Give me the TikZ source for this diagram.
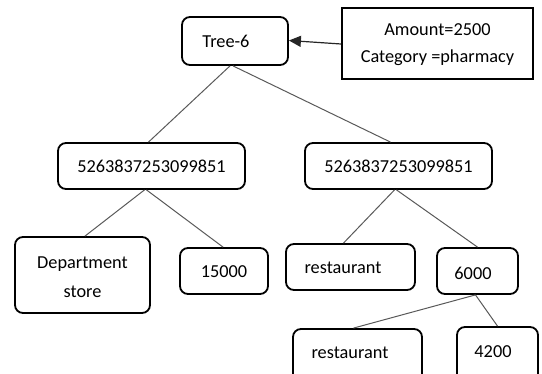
\documentclass[tikz,border=0pt]{standalone}
\usepackage{fontspec}
\setmainfont{Carlito}
\usetikzlibrary{arrows.meta,calc}
\begin{document}
\begin{tikzpicture}[x=1pt,y=-1pt,
  every node/.style={font=\fontsize{18.3}{22}\selectfont},
  rbox/.style={draw=black,line width=1.8pt,rounded corners=8pt,inner sep=0pt},
  sbox/.style={draw=black,line width=1.8pt,inner sep=0pt},
  txt/.style={inner sep=0pt,align=center},
  edge/.style={draw=black!65,line width=1pt}]
\clip (0,0) rectangle (542,374);
\useasboundingbox (0,0) rectangle (542,374);

% info box and root
\node[sbox,minimum width=191,minimum height=71] (info) at (437.5,43.5) {};
\node[txt,font=\fontsize{18.3}{27}\selectfont] (infot) at (437.5,44.5) {Amount=2500\\Category =pharmacy};
\node[rbox,minimum width=106,minimum height=48] (t6) at (235,41) {};
\node[txt] (t6t) at (226,41) {Tree-6};

% second level
\node[rbox,minimum width=187,minimum height=46] (l1) at (151.5,166) {};
\node[txt] (l1t) at (151.5,166) {5263837253099851};
\node[rbox,minimum width=187,minimum height=46] (r1) at (398.5,166) {};
\node[txt] (r1t) at (398.5,166) {5263837253099851};

% third level
\node[rbox,minimum width=135,minimum height=76] (dep) at (82.5,275) {};
\node[txt,font=\fontsize{18.3}{29}\selectfont] (dept) at (82.5,277) {Department\\store};
\node[rbox,minimum width=88,minimum height=46] (n15) at (224,271) {};
\node[txt] (n15t) at (224,272) {15000};
\node[rbox,minimum width=129,minimum height=46] (res1) at (350.5,267) {};
\node[txt] (res1t) at (343,268) {restaurant};
\node[rbox,minimum width=81,minimum height=46] (n6) at (477.5,271) {};
\node[txt] (n6t) at (473,273) {6000};

% fourth level (runs past the lower edge)
\node[rbox,minimum width=129,minimum height=60] (res2) at (357.5,359) {};
\node[txt] (res2t) at (350,353) {restaurant};
\node[rbox,minimum width=81,minimum height=60] (n42) at (497.5,357) {};
\node[txt] (n42t) at (493,352) {4200};

% connectors
\draw[line width=1.2pt,draw=black!85,-{Triangle[length=12pt,width=11pt]}] (info.west) ++(0,0.5) -- ([yshift=0.5pt]t6.east);
\draw[edge] ([xshift=-5pt]t6.south) -- ([xshift=-3pt]l1.north);
\draw[edge] ([xshift=-2pt]t6.south) -- ([xshift=-8pt]r1.north);
\draw[edge] ([xshift=-7pt]l1.south) -- ([xshift=2.5pt]dep.north);
\draw[edge] ([xshift=-5pt]l1.south) -- ([xshift=-1pt]n15.north);
\draw[edge] ([xshift=-4pt]r1.south) -- ([xshift=-7pt]res1.north);
\draw[edge] ([xshift=-2pt]r1.south) -- ([xshift=0pt]n6.north);
\draw[edge] ([xshift=-2pt]n6.south) -- ([xshift=-4pt]res2.north);
\draw[edge] ([xshift=-2pt]n6.south) -- ([xshift=0pt]n42.north);
\end{tikzpicture}
\end{document}
